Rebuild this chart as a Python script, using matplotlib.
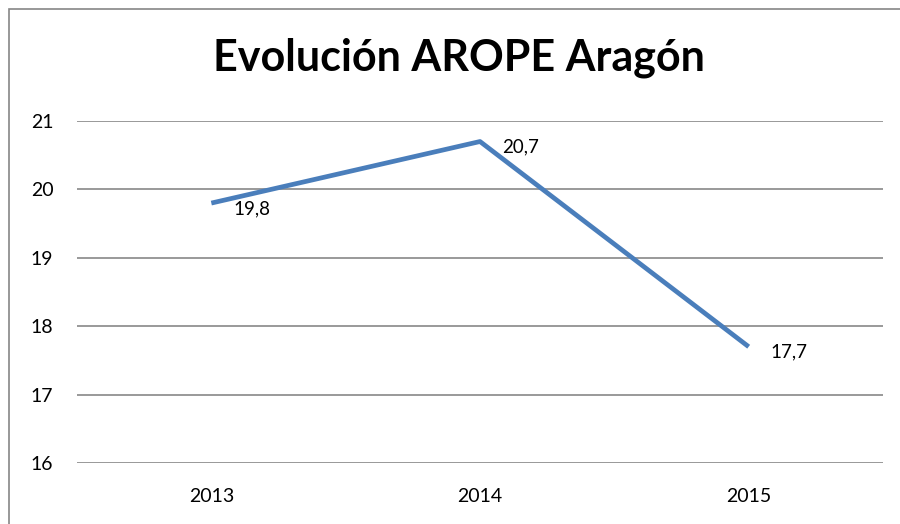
import matplotlib
matplotlib.use("Agg")
import matplotlib.pyplot as plt
from matplotlib.patches import Rectangle

years = ["2013", "2014", "2015"]
values = [19.8, 20.7, 17.7]
value_labels = ["19,8", "20,7", "17,7"]
y_ticks = [16, 17, 18, 19, 20, 21]
title = "Evolución AROPE Aragón"

plt.rcParams['font.family'] = ['Lato', 'DejaVu Sans']

fig = plt.figure(figsize=(9, 5.24), dpi=100)
fig.patch.set_facecolor('white')

# chart border (cropped on right and bottom)
fig.add_artist(Rectangle((9/900, -0.1), 1.5, (524-9)/524 + 0.1, transform=fig.transFigure,
                         fill=False, edgecolor='#868686', linewidth=1.2))

ax = fig.add_axes([77/900, (524-463)/524, (883-77)/900, (463-121)/524])
x = list(range(len(years)))
ax.plot(x, values, color='#4A7EBB', linewidth=3.4, solid_capstyle='butt', zorder=3)
for xi, v, lab in zip(x, values, value_labels):
    ax.annotate(lab, (xi, v), xytext=(16, -4), textcoords='offset points',
                ha='left', va='center', fontsize=13.5, color='black')

ax.set_xlim(-0.5, 2.5)
ax.set_ylim(16, 21)
ax.set_yticks(y_ticks)
ax.set_xticks(x)
ax.set_xticklabels(years)
ax.yaxis.grid(True, color='#878787', linewidth=1.2)
ax.set_axisbelow(True)
for s in ax.spines.values():
    s.set_visible(False)
ax.tick_params(axis='both', length=0, labelsize=14, colors='black')
ax.tick_params(axis='y', pad=17)
ax.tick_params(axis='x', pad=18)

fig.text(459/900, (524-58)/524, title, ha='center', va='center', fontsize=31,
         fontweight='bold', color='black')

fig.savefig('out.png', dpi=100, facecolor='white')
